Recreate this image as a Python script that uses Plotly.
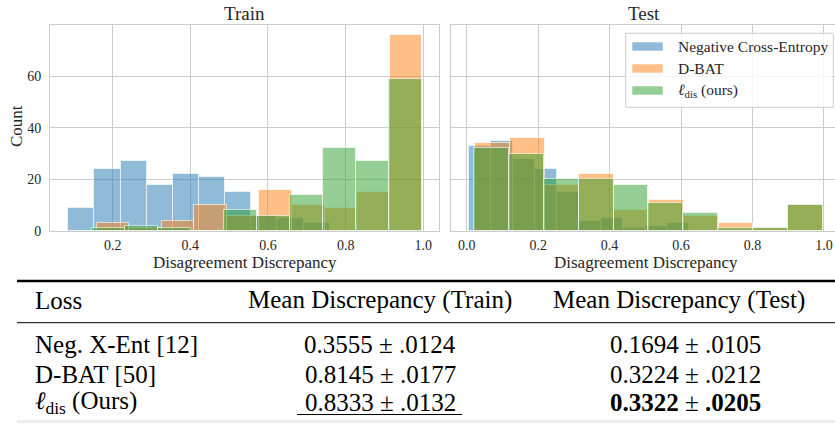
import numpy as np
import plotly.graph_objects as go

W, H = 835, 424

# ---------------- data ----------------
series_names = ["Negative Cross-Entropy", "D-BAT", "ℓ<sub>dis</sub> (ours)"]
series_colors = ["rgba(31,119,180,0.5)", "rgba(255,127,14,0.5)", "rgba(44,160,44,0.5)"]

# Train histograms: (first bin edge, last bin edge), counts per bin (10 bins)
train_neg_range = (0.0857, 0.759)
train_neg_counts = [9, 24, 27, 18, 22, 21, 15, 6, 5, 3]
train_dbat_range = (0.1588, 0.997)
train_dbat_counts = [3, 1, 4, 10, 6, 16, 10, 9, 15, 76]
train_dis_range = (0.146, 0.997)
train_dis_counts = [1, 2, 1, 0, 8, 6, 14, 32, 27, 59]

# Test histograms
test_neg_range = (0.0073, 0.622)
test_neg_counts = [33, 35, 28, 24, 15, 4, 5, 1, 2, 3]
test_dbat_range = (0.0233, 0.9975)
test_dbat_counts = [34, 36, 18, 22, 8, 12, 6, 3, 1, 10]
test_dis_range = (0.0199, 0.9975)
test_dis_counts = [32, 30, 20, 20, 18, 11, 7, 1, 1, 10]

train_xticks = [0.2, 0.4, 0.6, 0.8, 1.0]
test_xticks = [0.0, 0.2, 0.4, 0.6, 0.8, 1.0]
yticks = [0, 20, 40, 60]

table_header = ["Loss", "Mean Discrepancy (Train)", "Mean Discrepancy (Test)"]
table_loss = ["Neg. X-Ent [12]", "D-BAT [50]", "<i>ℓ</i><sub>dis</sub> (Ours)"]
table_train = ["0.3555 ± .0124", "0.8145 ± .0177", "0.8333 ± .0132"]
table_test = ["0.1694 ± .0105", "0.3224 ± .0212", "<b>0.3322</b> ± <b>.0205</b>"]

# ---------------- helpers ----------------
def px(x):
    return x / W

def py(y):
    return 1 - y / H

FONT = "Liberation Serif"
TXT = "#262626"
GRID = "#cccccc"

fig = go.Figure()

def add_hist(rng, counts, color, xa, ya):
    edges = np.linspace(rng[0], rng[1], len(counts) + 1)
    centers = (edges[:-1] + edges[1:]) / 2
    widths = np.diff(edges)
    fig.add_trace(go.Bar(
        x=centers, y=counts, width=widths,
        marker=dict(color=color, line=dict(color="rgba(255,255,255,0.6)", width=1)),
        xaxis=xa, yaxis=ya, showlegend=False, hoverinfo="x+y"))

train = [(train_neg_range, train_neg_counts), (train_dbat_range, train_dbat_counts), (train_dis_range, train_dis_counts)]
test = [(test_neg_range, test_neg_counts), (test_dbat_range, test_dbat_counts), (test_dis_range, test_dis_counts)]
for (rng, c), col in zip(train, series_colors):
    add_hist(rng, c, col, "x", "y")
for (rng, c), col in zip(test, series_colors):
    add_hist(rng, c, col, "x2", "y2")

ax_common = dict(showgrid=True, gridcolor=GRID, gridwidth=1, showline=True, linecolor=GRID,
                 linewidth=1, mirror=True, zeroline=False, ticks="",
                 tickfont=dict(family=FONT, size=14, color=TXT), automargin=False)

ydom = [py(231), py(25)]
fig.update_layout(
    width=W, height=H, margin=dict(l=0, r=0, t=0, b=0),
    paper_bgcolor="white", plot_bgcolor="white", barmode="overlay", bargap=0,
    font=dict(family=FONT, color=TXT, size=14),
    xaxis=dict(domain=[px(50), px(439)], range=[0.0386, 1.0404], anchor="y",
               tickvals=train_xticks, ticktext=[f"{v:.1f}" for v in train_xticks],
               ticklabelstandoff=1, **ax_common),
    yaxis=dict(domain=ydom, range=[0, 79.8], anchor="x", tickvals=yticks,
               ticklabelstandoff=5, **ax_common),
    xaxis2=dict(domain=[px(451), 1.0], range=[-0.044, 1.031], anchor="y2",
                tickvals=test_xticks, ticktext=[f"{v:.1f}" for v in test_xticks],
                ticklabelstandoff=1, **ax_common),
    yaxis2=dict(domain=ydom, range=[0, 79.8], anchor="x2", tickvals=yticks,
                showticklabels=False, **ax_common),
)

ann = []
shapes = []

def text(x, y, s, size, xanchor="center", angle=0, color=TXT):
    ann.append(dict(x=px(x), y=py(y), xref="paper", yref="paper", text=s, showarrow=False,
                    xanchor=xanchor, yanchor="middle", textangle=angle,
                    font=dict(family=FONT, size=size, color=color)))

# subplot titles and axis titles
text(245, 13.5, "Train", 19)
text(644, 13.5, "Test", 19)
text(245, 262, "Disagreement Discrepancy", 17)
text(646, 262, "Disagreement Discrepancy", 17)
text(16, 126, "Count", 17, angle=-90)

# manual legend
shapes.append(dict(type="rect", xref="paper", yref="paper", x0=px(625.7), x1=px(833.3),
                   y0=py(107.3), y1=py(33.3), fillcolor="rgba(255,255,255,0.8)",
                   line=dict(color=GRID, width=1), layer="above"))
for i, (name, col) in enumerate(zip(series_names, series_colors)):
    yc = 46.5 + i * 22
    shapes.append(dict(type="rect", xref="paper", yref="paper", x0=px(632), x1=px(663),
                       y0=py(yc + 4.5), y1=py(yc - 4.5), fillcolor=col,
                       line=dict(color="rgba(255,255,255,0.6)", width=1), layer="above"))
    label = name.replace("ℓ", "<i>ℓ</i>")
    text(675.5, yc, label, 15.5, xanchor="left")

# table
BLK = "#000000"
shapes.append(dict(type="line", xref="paper", yref="paper", x0=px(17), x1=1.0, y0=py(281), y1=py(281),
                   line=dict(color=BLK, width=2.5)))
shapes.append(dict(type="line", xref="paper", yref="paper", x0=px(17), x1=1.0, y0=py(322.7), y1=py(322.7),
                   line=dict(color=BLK, width=1)))
shapes.append(dict(type="line", xref="paper", yref="paper", x0=px(17), x1=1.0, y0=py(421.5), y1=py(421.5),
                   line=dict(color="#ececec", width=3)))

TFS = 25
text(33, 300, table_header[0], TFS, xanchor="left", color=BLK)
text(380, 300, table_header[1], TFS, color=BLK)
text(679, 300, table_header[2], TFS, color=BLK)
row_y = [344.5, 374.2, 402.2]
for i in range(3):
    text(33, row_y[i], table_loss[i], TFS, xanchor="left", color=BLK)
    text(380, row_y[i], table_train[i], TFS, color=BLK)
    text(685, row_y[i], table_test[i], TFS, color=BLK)
# underline on best train value
shapes.append(dict(type="line", xref="paper", yref="paper", x0=px(297), x1=px(462), y0=py(414.5), y1=py(414.5),
                   line=dict(color=BLK, width=1.2)))

fig.update_layout(annotations=ann, shapes=shapes)
fig.write_html("out.html")
